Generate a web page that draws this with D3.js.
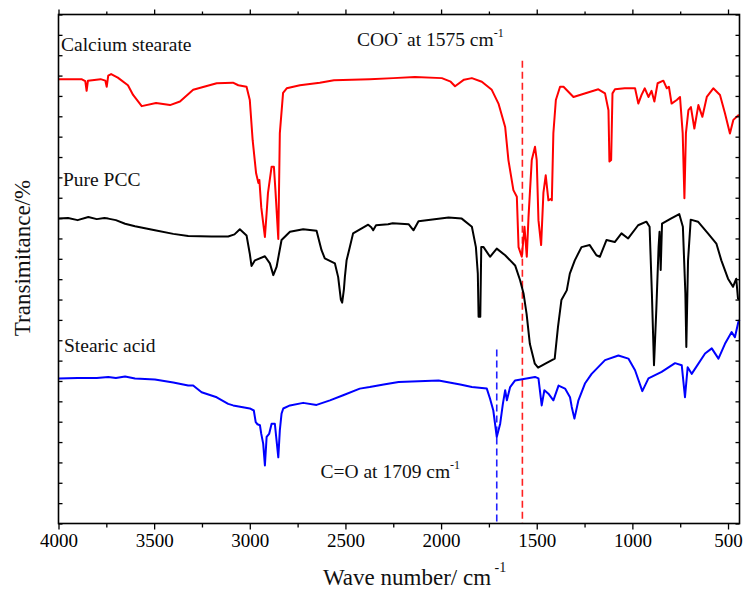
<!DOCTYPE html>
<html>
<head>
<meta charset="utf-8">
<script src="https://cdn.jsdelivr.net/npm/d3@7"></script>
<style>
  html, body { margin: 0; padding: 0; background: #fff; }
  svg { display: block; font-family: "Liberation Serif", "Times New Roman", serif; }
</style>
</head>
<body>
<svg id="chart" width="744" height="589"></svg>
<script>
// ---------- DATA ----------
const xTickValues = [4000, 3500, 3000, 2500, 2000, 1500, 1000, 500];
const xMinorTicks = [3750, 3250, 2750, 2250, 1750, 1250, 750];

// Calcium stearate [wavenumber, transmittance (a.u.)]
const calciumStearate = [[4000,87.3],[3880,87.3],[3860,86.9],[3853,85.0],[3846,87.0],[3780,87.3],[3755,87.0],[3748,85.8],[3740,88.0],[3725,88.3],[3690,87.6],[3637,86.1],[3610,84.2],[3565,82.0],[3490,82.6],[3417,82.2],[3365,82.9],[3296,85.2],[3173,86.5],[3088,86.6],[3060,86.1],[3017,85.8],[3000,83.2],[2985,75.3],[2967,68.8],[2955,66.9],[2950,67.5],[2940,62.1],[2921,56.3],[2912,61.0],[2905,64.9],[2886,70.1],[2874,70.1],[2866,65.5],[2851,55.9],[2843,76.7],[2826,84.6],[2807,85.5],[2738,86.1],[2634,86.6],[2560,87.1],[2373,87.3],[2250,87.5],[2137,87.7],[1996,87.5],[1950,86.8],[1927,85.9],[1880,87.2],[1839,87.5],[1787,86.8],[1735,85.2],[1700,82.5],[1665,77.9],[1648,71.4],[1622,65.5],[1604,64.2],[1595,54.3],[1578,52.4],[1564,58.3],[1552,52.4],[1543,60.2],[1526,71.4],[1509,74.0],[1500,71.4],[1491,59.6],[1477,54.7],[1465,65.0],[1453,68.4],[1439,63.5],[1425,63.8],[1421,63.5],[1413,76.7],[1400,83.2],[1378,85.8],[1360,85.8],[1308,83.8],[1178,85.3],[1143,84.5],[1125,81.2],[1120,71.1],[1111,71.4],[1104,84.5],[1091,85.3],[1040,85.5],[986,85.5],[969,82.5],[952,84.2],[935,85.5],[916,83.8],[900,85.0],[885,82.9],[868,86.5],[838,87.0],[820,85.5],[809,85.8],[795,82.5],[768,83.2],[751,83.8],[737,76.7],[728,63.9],[720,76.7],[707,81.2],[694,81.8],[676,77.6],[655,82.2],[634,79.9],[611,83.8],[577,85.5],[542,84.2],[516,80.6],[490,76.6],[472,79.3],[446,80.2],[440,80.0]];

// Pure PCC
const purePCC = [[4000,59.9],[3950,60.0],[3900,59.6],[3844,60.2],[3800,59.8],[3760,60.0],[3740,59.9],[3700,59.6],[3652,58.9],[3600,58.4],[3496,57.6],[3400,56.9],[3322,56.5],[3200,56.4],[3113,56.4],[3080,56.8],[3052,57.8],[3017,56.6],[3000,53.0],[2991,50.6],[2973,51.7],[2921,52.5],[2895,51.1],[2877,48.8],[2860,50.4],[2834,55.7],[2790,57.3],[2721,57.8],[2651,57.5],[2625,53.7],[2608,52.1],[2555,51.1],[2538,48.4],[2524,44.0],[2517,43.4],[2508,46.0],[2503,48.4],[2494,51.7],[2477,54.3],[2460,57.0],[2381,58.7],[2365,58.2],[2355,57.6],[2340,58.6],[2277,58.8],[2253,59.0],[2170,58.8],[2144,57.6],[2118,59.4],[1961,60.1],[1892,59.9],[1839,58.3],[1818,54.3],[1808,49.1],[1804,40.6],[1795,40.6],[1790,54.3],[1778,54.3],[1744,52.4],[1709,54.0],[1665,52.7],[1613,50.7],[1587,47.8],[1569,45.2],[1553,41.2],[1536,35.3],[1510,31.4],[1493,30.6],[1450,31.5],[1406,32.4],[1389,38.6],[1371,43.9],[1343,45.8],[1327,49.1],[1301,51.7],[1266,54.3],[1223,54.7],[1188,52.7],[1170,52.4],[1135,55.7],[1092,55.3],[1057,57.0],[1022,56.0],[970,58.6],[927,59.3],[910,58.3],[898,45.2],[887,31.1],[875,41.9],[863,54.3],[858,57.3],[852,49.8],[845,58.9],[799,59.9],[755,60.8],[736,58.3],[723,45.2],[718,34.7],[709,51.7],[695,59.7],[657,59.3],[605,57.0],[561,55.0],[535,51.7],[500,48.1],[474,46.5],[457,48.1],[448,44.2],[440,44.0]];

// Stearic acid
const stearicAcid = [[4000,28.5],[3900,28.6],[3800,28.6],[3740,28.8],[3700,28.6],[3652,28.9],[3600,28.5],[3496,28.3],[3400,27.7],[3322,27.1],[3296,27.1],[3252,25.8],[3173,24.8],[3113,23.5],[3087,23.2],[3000,22.6],[2979,22.2],[2969,19.9],[2960,19.5],[2947,19.3],[2940,17.6],[2930,15.7],[2921,11.4],[2912,17.0],[2899,17.6],[2886,19.6],[2869,19.6],[2860,16.3],[2851,13.0],[2843,18.3],[2834,21.6],[2825,22.6],[2790,23.2],[2721,23.7],[2651,23.3],[2581,24.2],[2512,25.2],[2425,26.5],[2373,26.8],[2300,27.3],[2222,27.8],[2013,28.1],[1900,27.3],[1839,26.8],[1761,26.5],[1744,24.5],[1727,22.2],[1709,17.0],[1691,19.6],[1677,23.5],[1665,26.2],[1656,24.2],[1639,26.8],[1613,28.1],[1509,28.8],[1491,28.5],[1474,23.2],[1460,26.2],[1439,25.5],[1413,24.2],[1386,27.1],[1352,26.5],[1326,24.8],[1317,22.9],[1303,20.6],[1282,24.2],[1248,27.5],[1213,29.4],[1143,32.1],[1073,33.0],[1021,32.4],[986,30.1],[948,26.0],[916,28.5],[847,29.8],[777,31.5],[742,31.1],[725,24.8],[711,30.7],[690,29.4],[620,33.4],[585,34.4],[550,32.4],[516,35.3],[481,37.6],[464,36.6],[446,39.6],[440,40.0]];

// Marker lines: wavenumber, top value
const markerWave = [1575, 1709];
const markerTop = [90.9, 34.2];
const markerColor = ["#ff2020", "#2020ff"];

// ---------- LAYOUT ----------
(function () {
const svg = d3.select("#chart");
const pLeft = 58.5, pRight = 739.5, pTop = 14.5, pBottom = 523.5;
const x = d3.scaleLinear().domain([4000, 440]).range([pLeft, pRight]);
const y = d3.scaleLinear().domain([0, 100]).range([pBottom, pTop]);
const font = "'Liberation Serif', 'Times New Roman', serif";

// marker dashed lines (behind curves)
markerWave.forEach((w, i) => {
  svg.append("line")
    .attr("x1", x(w)).attr("x2", x(w))
    .attr("y1", y(markerTop[i])).attr("y2", y(0))
    .attr("stroke", markerColor[i]).attr("stroke-width", 1.6)
    .attr("stroke-dasharray", "7,4");
});

const line = d3.line().x(d => x(d[0])).y(d => y(d[1]));
const series = [
  {data: purePCC, color: "#000000"},
  {data: stearicAcid, color: "#0000ff"},
  {data: calciumStearate, color: "#ff0000"}
];
series.forEach(s => {
  svg.append("path").datum(s.data)
    .attr("d", line).attr("fill", "none")
    .attr("stroke", s.color).attr("stroke-width", 2)
    .attr("stroke-linejoin", "round");
});

// axes
const axisStyle = g => {
  g.select(".domain").remove();
  g.selectAll("line").attr("stroke", "#000").attr("stroke-width", 1.3);
  g.selectAll("text").attr("font-family", font).attr("font-size", 19).attr("fill", "#000");
};
svg.append("g").attr("transform", `translate(0,${pBottom})`)
  .call(d3.axisBottom(x).tickValues(xTickValues).tickSize(6).tickPadding(4).tickFormat(d3.format("d")))
  .call(axisStyle);
svg.append("g").attr("transform", `translate(0,${pBottom})`)
  .call(d3.axisBottom(x).tickValues(xMinorTicks).tickSize(4).tickFormat(""))
  .call(axisStyle);
svg.append("g").attr("transform", `translate(0,${pTop})`)
  .call(d3.axisTop(x).tickValues(xTickValues).tickSize(5).tickFormat(""))
  .call(axisStyle);
svg.append("g").attr("transform", `translate(0,${pTop})`)
  .call(d3.axisTop(x).tickValues(xMinorTicks).tickSize(3).tickFormat(""))
  .call(axisStyle);
const yTicks = d3.range(0, 101, 4);
svg.append("g").attr("transform", `translate(${pLeft},0)`)
  .call(d3.axisRight(y).tickValues(yTicks).tickSize(4).tickFormat(""))
  .call(axisStyle);
svg.append("g").attr("transform", `translate(${pRight},0)`)
  .call(d3.axisLeft(y).tickValues(yTicks).tickSize(4).tickFormat(""))
  .call(axisStyle);

// frame
svg.append("rect").attr("x", pLeft).attr("y", pTop)
  .attr("width", pRight - pLeft).attr("height", pBottom - pTop)
  .attr("fill", "none").attr("stroke", "#000").attr("stroke-width", 1.6);

// series labels
const labels = [
  {t: "Calcium stearate", x: 61, y: 51},
  {t: "Pure PCC", x: 63, y: 186},
  {t: "Stearic acid", x: 64, y: 352}
];
labels.forEach(l => {
  svg.append("text").attr("x", l.x).attr("y", l.y)
    .attr("font-family", font).attr("font-size", 19.5).attr("fill", "#111").text(l.t);
});

// annotations with superscripts
function annot(xp, yp, parts) {
  const t = svg.append("text").attr("x", xp).attr("y", yp)
    .attr("font-family", font).attr("font-size", 19.5).attr("fill", "#111");
  parts.forEach(p => {
    const ts = t.append("tspan").text(p.s);
    if (p.sup) ts.attr("font-size", 12).attr("dy", -9);
    if (p.down) ts.attr("dy", 9);
  });
}
annot(357, 46, [{s: "COO"}, {s: "-", sup: true}, {s: " at 1575 cm", down: true}, {s: "-1", sup: true}]);
annot(320.5, 478, [{s: "C=O at 1709 cm"}, {s: "-1", sup: true}]);

// axis titles
const xt = svg.append("text").attr("x", 323).attr("y", 585)
  .attr("font-family", font).attr("font-size", 23).attr("fill", "#111");
xt.append("tspan").text("Wave number/ cm");
xt.append("tspan").text(" -1").attr("font-size", 14).attr("dy", -13);

svg.append("text")
  .attr("transform", "translate(30,258) rotate(-90)")
  .attr("text-anchor", "middle")
  .attr("font-family", font).attr("font-size", 23).attr("fill", "#111")
  .text("Transimitance/%");
})();
</script>
</body>
</html>
